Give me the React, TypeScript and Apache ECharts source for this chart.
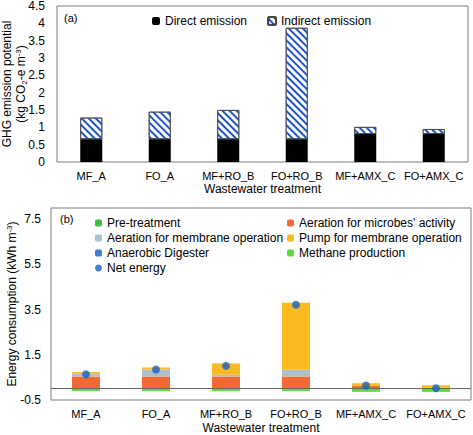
import React, { useEffect, useRef } from "react";
import * as echarts from "echarts";

const categories = ["MF_A", "FO_A", "MF+RO_B", "FO+RO_B", "MF+AMX_C", "FO+AMX_C"];

// (a) GHG emission potential (kg CO2-e m-3)
const directEmission = [0.66, 0.66, 0.66, 0.66, 0.81, 0.81];
const indirectEmission = [0.62, 0.79, 0.84, 3.21, 0.2, 0.14];

// (b) Energy consumption (kWh m-3)
const preTreatment = [0.02, 0.02, 0.02, 0.02, 0.02, 0.02];
const aerationMicrobes = [0.52, 0.52, 0.52, 0.52, 0.12, 0.02];
const aerationMembrane = [0.12, 0.31, 0.08, 0.3, 0.02, 0];
const pumpMembrane = [0.08, 0.09, 0.5, 2.96, 0.08, 0.11];
const anaerobicDigester = [0, 0, 0, 0, 0, 0];
const methaneProduction = [-0.1, -0.1, -0.1, -0.1, -0.14, -0.14];
const netEnergy = [0.64, 0.85, 1.01, 3.72, 0.14, 0.02];

const yTicksB = [-0.5, 1.5, 3.5, 5.5, 7.5];

const FONT = "'Liberation Sans', Arial, sans-serif";

export default function App() {
  const ref = useRef<HTMLDivElement>(null);
  useEffect(() => {
    if (!ref.current) return;
    const chart = echarts.init(ref.current, null, { renderer: "svg" });
    const txt = { color: "#000", fontFamily: FONT, fontSize: 12 };
    const gtxt = { fill: "#000", fontFamily: FONT, fontSize: 12 };
    const barB = (name: string, data: number[], color: string, extra: any = {}) => ({
      name,
      type: "bar",
      xAxisIndex: 1,
      yAxisIndex: 1,
      stack: "b",
      barWidth: 28,
      data,
      itemStyle: { color },
      ...extra,
    });
    chart.setOption({
      animation: false,
      textStyle: { fontFamily: FONT },
      grid: [
        { left: 57, top: 6, width: 411, height: 156, show: true, borderColor: "#7a7a7a", borderWidth: 1, backgroundColor: "transparent" },
        { left: 51, top: 208, width: 420, height: 192, show: true, borderColor: "#7a7a7a", borderWidth: 1, backgroundColor: "transparent" },
      ],
      graphic: [
        { type: "text", left: 64, top: 12, style: { text: "(a)", fill: "#000", font: `11px ${FONT}` } },
        { type: "text", left: 60, top: 213, style: { text: "(b)", fill: "#000", font: `11px ${FONT}` } },
        {
          type: "text",
          x: 14,
          y: 84,
          rotation: Math.PI / 2,
          style: {
            ...gtxt,
            text: "{a|GHG emission potential}\n{a|(kg CO}{sub|2}{a|-e m}{sup|-3}{a|)}",
            align: "center",
            verticalAlign: "middle",
            rich: {
              a: { ...gtxt, lineHeight: 14 },
              sub: { ...gtxt, fontSize: 8, lineHeight: 14, verticalAlign: "bottom" },
              sup: { ...gtxt, fontSize: 8, lineHeight: 14, verticalAlign: "top" },
            },
          },
        },
        {
          type: "text",
          x: 12,
          y: 304,
          rotation: Math.PI / 2,
          style: {
            ...gtxt,
            text: "{a|Energy consumption (kWh m}{sup|-3}{a|)}",
            align: "center",
            verticalAlign: "middle",
            rich: {
              a: { ...gtxt, lineHeight: 14 },
              sup: { ...gtxt, fontSize: 8, lineHeight: 14, verticalAlign: "top" },
            },
          },
        },
      ],
      legend: [
        {
          data: ["Direct emission", "Indirect emission"],
          left: 147,
          top: 10,
          itemWidth: 8,
          itemHeight: 8,
          itemGap: 20,
          textStyle: txt,
        },
        {
          data: ["Pre-treatment", "Aeration for membrane operation", "Anaerobic Digester", "Net energy"],
          orient: "vertical",
          left: 90,
          top: 212,
          itemWidth: 7,
          itemHeight: 7,
          itemGap: 3,
          textStyle: txt,
        },
        {
          data: ["Aeration for microbes' activity", "Pump for membrane operation", "Methane production"],
          orient: "vertical",
          left: 282,
          top: 212,
          itemWidth: 7,
          itemHeight: 7,
          itemGap: 3,
          textStyle: txt,
        },
      ],
      xAxis: [
        {
          type: "category",
          gridIndex: 0,
          data: categories,
          axisLine: { show: false },
          axisTick: { show: false },
          axisLabel: { margin: 8, interval: 0, ...txt, fontSize: 11 },
          name: "Wastewater treatment",
          nameLocation: "middle",
          nameGap: 21,
          nameTextStyle: txt,
        },
        {
          type: "category",
          gridIndex: 1,
          data: categories,
          axisLine: { show: false },
          axisTick: { show: false },
          axisLabel: { margin: 8, interval: 0, ...txt, fontSize: 11 },
          name: "Wastewater treatment",
          nameLocation: "middle",
          nameGap: 22,
          nameTextStyle: txt,
        },
      ],
      yAxis: [
        {
          type: "value",
          gridIndex: 0,
          min: 0,
          max: 4.5,
          interval: 0.5,
          splitLine: { show: false },
          axisLine: { show: false },
          axisTick: { show: false },
          axisLabel: { margin: 12, ...txt },
        },
        {
          type: "value",
          gridIndex: 1,
          min: -0.5,
          max: 8,
          interval: 0.5,
          splitLine: { show: false },
          axisLine: { show: false },
          axisTick: { show: false },
          axisLabel: {
            margin: 10,
            ...txt,
            formatter: (v: number) => (yTicksB.some((t) => Math.abs(t - v) < 1e-6) ? v.toFixed(1) : ""),
          },
        },
      ],
      series: [
        {
          name: "Direct emission",
          type: "bar",
          stack: "a",
          barWidth: 22,
          data: directEmission,
          itemStyle: { color: "#000" },
        },
        {
          name: "Indirect emission",
          type: "bar",
          stack: "a",
          barWidth: 22,
          data: indirectEmission,
          itemStyle: {
            color: "#fff",
            borderColor: "#444",
            borderWidth: 0.8,
            decal: {
              symbol: "rect",
              symbolSize: 1,
              dashArrayX: [1, 0],
              dashArrayY: [2, 2.5],
              rotation: Math.PI / 4,
              color: "#1f55c9",
              backgroundColor: "#fff",
            },
          },
        },
        barB("Pre-treatment", preTreatment, "#3fbf3f"),
        barB("Aeration for microbes' activity", aerationMicrobes, "#f46a35"),
        barB("Aeration for membrane operation", aerationMembrane, "#adbfcc"),
        barB("Pump for membrane operation", pumpMembrane, "#fbba1f"),
        barB("Anaerobic Digester", anaerobicDigester, "#3a7fd8"),
        barB("Methane production", methaneProduction, "#5cdc3c", {
          markLine: {
            silent: true,
            symbol: ["none", "none"],
            label: { show: false },
            lineStyle: { color: "#666", type: "solid", width: 1.2 },
            data: [{ yAxis: 0 }],
          },
        }),
        {
          name: "Net energy",
          type: "scatter",
          xAxisIndex: 1,
          yAxisIndex: 1,
          symbol: "circle",
          symbolSize: 8,
          data: netEnergy,
          itemStyle: { color: "#1463c6" },
          z: 5,
        },
      ],
    });
    return () => chart.dispose();
  }, []);
  return <div ref={ref} style={{ position: "absolute", left: 0, top: 0, width: 473, height: 435 }} />;
}
